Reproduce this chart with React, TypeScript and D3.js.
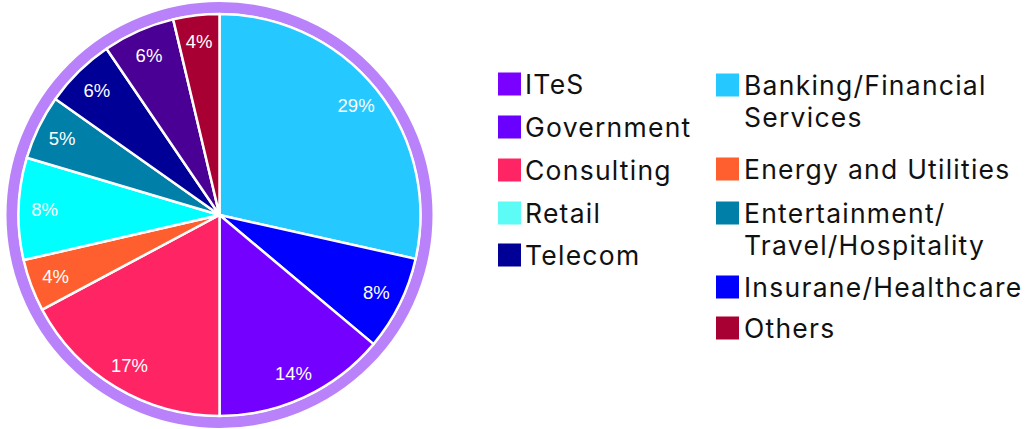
import React, { useEffect, useRef } from 'react';
import * as d3 from 'd3';

// slices, clockwise from 12 o'clock
const sectors = [
  'Banking/Financial Services',
  'Insurane/Healthcare',
  'Government',
  'Consulting',
  'Energy and Utilities',
  'Retail',
  'Entertainment/Travel/Hospitality',
  'Telecom',
  'ITeS',
  'Others',
];
// shares in % (labels show them rounded)
const shares = [28.5, 7.6, 13.9, 17.2, 4.2, 8.2, 5.2, 5.7, 5.8, 3.7];
const sliceColors = [
  '#26c9ff', '#0000ff', '#7400ff', '#ff2464', '#ff5f2e',
  '#00ffff', '#0080a8', '#000096', '#4a0095', '#a80032',
];

// legend as drawn: two columns, some names wrap onto two lines
const legendLeft = [['ITeS'], ['Government'], ['Consulting'], ['Retail'], ['Telecom']];
const legendLeftColors = ['#7a00ff', '#6a00ff', '#ff2464', '#5cfbf6', '#000096'];
const legendRight = [
  ['Banking/Financial', 'Services'],
  ['Energy and Utilities'],
  ['Entertainment/', 'Travel/Hospitality'],
  ['Insurane/Healthcare'],
  ['Others'],
];
const legendRightColors = ['#26c9ff', '#ff5f2e', '#0080a8', '#0000ff', '#a80032'];

export default function App() {
  const svgRef = useRef<SVGSVGElement>(null);

  useEffect(() => {
    const svg = d3.select(svgRef.current);
    svg.selectAll('*').remove();

    const cx = 219.5;
    const cy = 215;
    const radius = 201;

    const g = svg.append('g').attr('transform', `translate(${cx},${cy})`);

    // purple outer ring
    g.append('circle')
      .attr('r', 207.5)
      .attr('fill', 'none')
      .attr('stroke', '#b982fa')
      .attr('stroke-width', 11);

    const pie = d3.pie<number>().sort(null).value((d) => d);
    const arc = d3.arc<d3.PieArcDatum<number>>().innerRadius(0).outerRadius(radius);
    const labelArc = d3.arc<d3.PieArcDatum<number>>().innerRadius(175).outerRadius(175);

    const arcs = pie(shares);

    g.selectAll('path.slice')
      .data(arcs)
      .enter()
      .append('path')
      .attr('class', 'slice')
      .attr('d', arc)
      .attr('fill', (_, i) => sliceColors[i])
      .attr('stroke', '#ffffff')
      .attr('stroke-width', 2.5)
      .attr('stroke-linejoin', 'round');

    g.selectAll('text.pct')
      .data(arcs)
      .enter()
      .append('text')
      .attr('class', 'pct')
      .attr('transform', (d) => `translate(${labelArc.centroid(d)})`)
      .attr('text-anchor', 'middle')
      .attr('dy', '0.36em')
      .attr('fill', '#ffffff')
      .style('font-family', '"Liberation Sans", Arial, sans-serif')
      .style('font-size', '18.5px')
      .text((d) => `${Math.round(d.data)}%`);

    // legend
    const drawColumn = (items: string[][], colors: string[], sx: number, tx: number, ys: number[]) => {
      items.forEach((lines, i) => {
        const y = ys[i];
        svg.append('rect')
          .attr('x', sx)
          .attr('y', y - 11.5)
          .attr('width', 23)
          .attr('height', 23)
          .attr('fill', colors[i]);
        lines.forEach((line, j) => {
          svg.append('text')
            .attr('x', tx)
            .attr('y', y + j * 32)
            .attr('dy', '0.36em')
            .attr('fill', '#111111')
            .style('font-family', 'Inter, "Noto Sans", sans-serif')
            .style('font-size', '26.5px')
            .style('letter-spacing', '1.25px')
            .text(line);
        });
      });
    };

    drawColumn(legendLeft, legendLeftColors, 498, 525, [84, 127, 170, 213, 255]);
    drawColumn(legendRight, legendRightColors, 716, 744, [85, 169, 213, 287, 328]);
  }, []);

  return (
    <svg
      ref={svgRef}
      width={1026}
      height={429}
      style={{ position: 'absolute', left: 0, top: 0, background: '#ffffff' }}
    />
  );
}
